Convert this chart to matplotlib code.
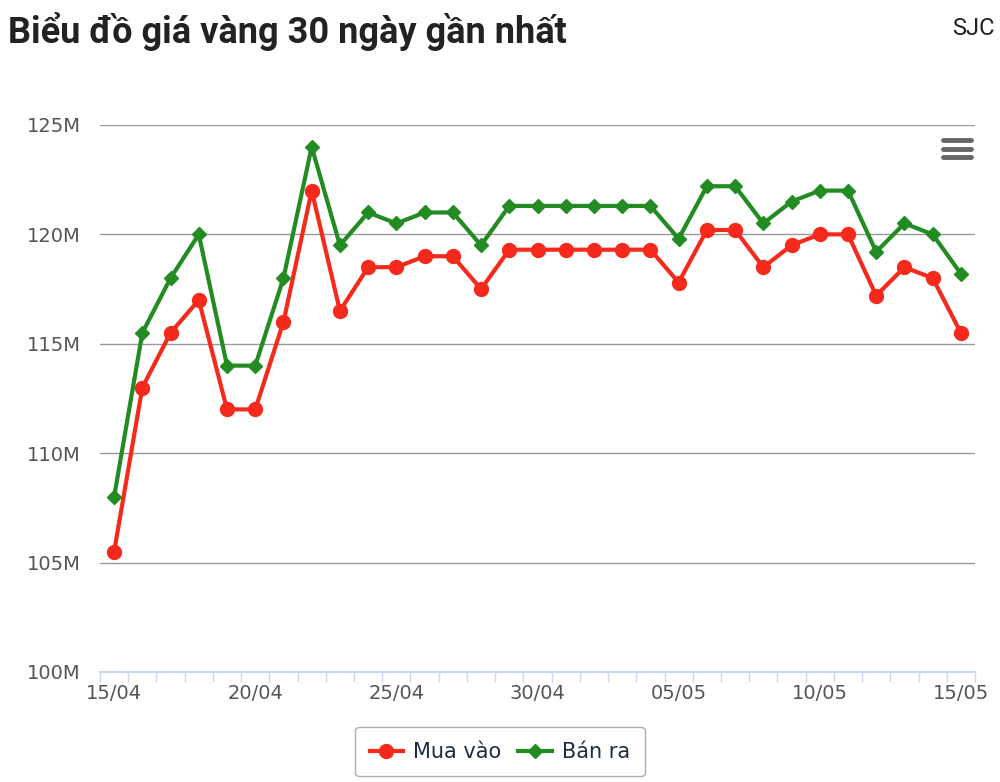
import matplotlib.pyplot as plt
from matplotlib.lines import Line2D

days = ['15/04', '16/04', '17/04', '18/04', '19/04', '20/04', '21/04', '22/04',
        '23/04', '24/04', '25/04', '26/04', '27/04', '28/04', '29/04', '30/04',
        '01/05', '02/05', '03/05', '04/05', '05/05', '06/05', '07/05', '08/05',
        '09/05', '10/05', '11/05', '12/05', '13/05', '14/05', '15/05']

mua_vao = [105.5, 113.0, 115.5, 117.0, 112.0, 112.0, 116.0, 122.0,
           116.5, 118.5, 118.5, 119.0, 119.0, 117.5, 119.3, 119.3,
           119.3, 119.3, 119.3, 119.3, 117.8, 120.2, 120.2, 118.5,
           119.5, 120.0, 120.0, 117.2, 118.5, 118.0, 115.5]

ban_ra = [108.0, 115.5, 118.0, 120.0, 114.0, 114.0, 118.0, 124.0,
          119.5, 121.0, 120.5, 121.0, 121.0, 119.5, 121.3, 121.3,
          121.3, 121.3, 121.3, 121.3, 119.8, 122.2, 122.2, 120.5,
          121.5, 122.0, 122.0, 119.2, 120.5, 120.0, 118.2]

y_ticks = [100, 105, 110, 115, 120, 125]

label_font = ['Liberation Sans Narrow', 'DejaVu Sans']

fig = plt.figure(figsize=(10, 7.82), dpi=100)
ax = fig.add_axes([0.1, 0.1407, 0.875, 0.6995])

x = list(range(len(days)))
ax.plot(x, mua_vao, color='#f52a1c', lw=3, marker='o', ms=10,
        label='Mua vào', zorder=3)
ax.plot(x, ban_ra, color='#228b22', lw=3, marker='D', ms=7.5,
        label='Bán ra', zorder=3)

ax.set_xlim(-0.5, len(days) - 0.5)
ax.set_ylim(100, 125)

ax.set_yticks(y_ticks)
ax.set_yticklabels([f'{v}M' for v in y_ticks], family=label_font,
                   fontsize=14, color='#555555')
ax.grid(axis='y', color='#9a9a9a', lw=1)
ax.tick_params(axis='y', length=0, pad=14)

ax.set_xticks(x[::5])
ax.set_xticklabels(days[::5], family=label_font, fontsize=14, color='#555555')
ax.set_xticks([i - 0.5 for i in range(len(days) + 1)], minor=True)
ax.tick_params(axis='x', which='major', length=0, pad=9)
ax.tick_params(axis='x', which='minor', length=7, color='#ccd6eb', width=1)

for s in ['top', 'right', 'left']:
    ax.spines[s].set_visible(False)
ax.spines['bottom'].set_color('#ccd6eb')
ax.spines['bottom'].set_linewidth(1.5)
ax.set_axisbelow(True)

leg = ax.legend(loc='center', bbox_to_anchor=(0.5, 0.0385), bbox_transform=fig.transFigure,
                ncol=2, frameon=True, fancybox=True, edgecolor='#999999',
                prop={'family': label_font, 'size': 15}, handlelength=1.6,
                columnspacing=0.8, handletextpad=0.5, borderpad=0.7)
for t in leg.get_texts():
    t.set_color('#1f2a44')

fig.text(0.008, 0.96, 'Biểu đồ giá vàng 30 ngày gần nhất', fontsize=26,
         fontweight='bold', family='Roboto', color='#222222', va='center')
fig.text(0.995, 0.964, 'SJC', fontsize=17, family='Roboto', color='#222222',
         ha='right', va='center')

# menu icon
for yy in [0.821, 0.810, 0.799]:
    fig.add_artist(Line2D([0.943, 0.971], [yy, yy], color='#666666', lw=3.5,
                          solid_capstyle='round'))

fig.savefig('out.png', dpi=100)
